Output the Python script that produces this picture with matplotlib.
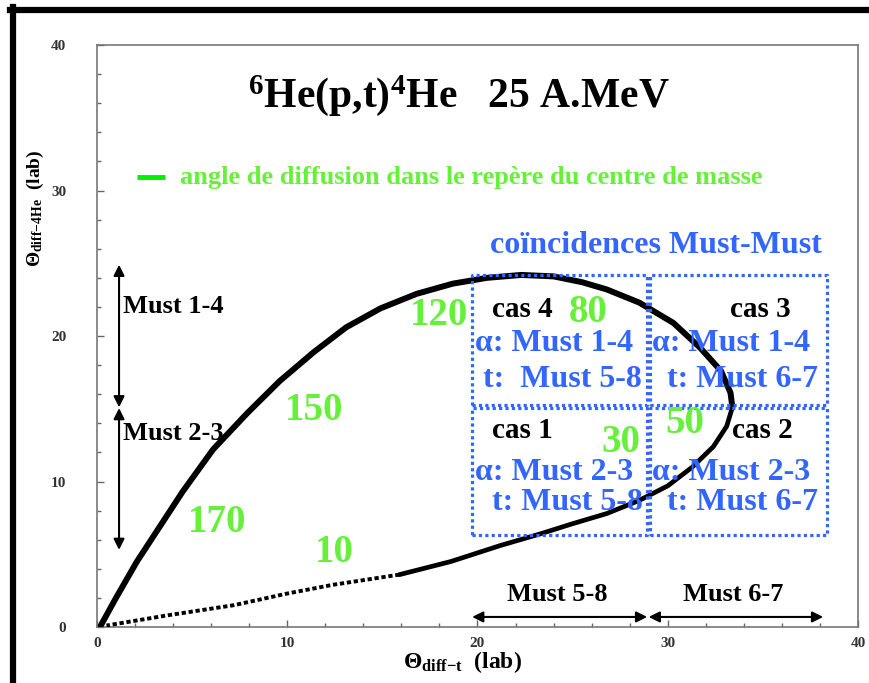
import numpy as np
import matplotlib.pyplot as plt
from matplotlib.lines import Line2D
from matplotlib.ticker import MultipleLocator

plt.rcParams['font.family'] = ['Liberation Serif', 'DejaVu Serif']
plt.rcParams['font.weight'] = 'bold'
plt.rcParams['mathtext.fontset'] = 'custom'
plt.rcParams['mathtext.rm'] = 'Liberation Serif:bold'
plt.rcParams['mathtext.bf'] = 'Liberation Serif:bold'
plt.rcParams['mathtext.it'] = 'Liberation Serif:bold'

# Kinematic curve (theta_t, theta_4He) in lab, degrees
# forward branch, from origin to the turning point
fwd_t = [0.2, 1.0, 2.1, 3.3, 4.5, 6.1, 7.9, 9.6, 11.4, 13.1, 14.9, 16.8, 18.7, 20.5,
         22.3, 24.0, 25.5, 26.8, 28.5, 30.3, 31.7, 32.8, 33.3, 33.4]
fwd_a = [0.1, 2.0, 4.5, 6.9, 9.3, 12.2, 14.7, 16.9, 18.9, 20.6, 21.9, 22.9, 23.6, 24.0,
         24.2, 24.1, 23.7, 23.2, 22.3, 20.9, 19.2, 17.6, 16.1, 15.1]
# return branch, solid part
ret_t = [33.4, 33.1, 32.4, 31.3, 30.0, 28.5, 26.8, 25.0, 23.3, 21.2, 18.6, 15.9]
ret_a = [15.1, 13.8, 12.4, 11.0, 9.7, 8.7, 7.8, 7.1, 6.4, 5.6, 4.5, 3.6]
# return branch, dotted part near origin
dot_t = [15.9, 12.4, 10.0, 7.2, 3.7, 0.5]
dot_a = [3.6, 2.9, 2.3, 1.5, 0.8, 0.1]

# CM angles along the curve
cm_labels = ['170', '150', '120', '80', '50', '30', '10']
cm_x = [6.3, 11.4, 18.0, 25.8, 30.9, 27.55, 12.5]
cm_y = [7.2, 14.9, 21.4, 21.65, 14.0, 12.7, 5.1]

# detector coincidence zones
box_x0 = [19.72, 29.07, 19.72, 29.07]
box_x1 = [28.92, 38.38, 28.92, 38.38]
box_y0 = [6.32, 6.32, 15.26, 15.26]
box_y1 = [15.05, 15.05, 24.19, 24.19]
case_txt = ['cas 1', 'cas 2', 'cas 4', 'cas 3']
case_x = [20.77, 33.39, 20.77, 33.28]
case_y = [13.54, 13.54, 21.8, 21.8]
alpha_txt = ['α: Must 2-3', 'α: Must 2-3', 'α: Must 1-4', 'α: Must 1-4']
alpha_x = [19.87, 29.18, 19.87, 29.18]
alpha_y = [10.65, 10.65, 19.52, 19.52]
t_txt = ['t: Must 5-8', 't: Must 6-7', 't:  Must 5-8', 't: Must 6-7']
t_x = [20.77, 29.97, 20.3, 29.97]
t_y = [8.59, 8.59, 16.98, 16.98]

green = '#66f03a'
blue = '#3366ff'

fig = plt.figure(figsize=(8.69, 6.83), dpi=100)
ax = fig.add_axes([0.1116, 0.082, 0.8757, 0.852])

ax.plot(fwd_t, fwd_a, color='black', lw=4.3, solid_capstyle='round', solid_joinstyle='round', zorder=3)
ax.plot(ret_t, ret_a, color='black', lw=3.4, solid_capstyle='round', solid_joinstyle='round', zorder=3)
ax.plot(dot_t, dot_a, color='black', lw=2.8, linestyle=(0, (1.1, 0.7)), dash_capstyle='butt', zorder=3)

ax.set_xlim(0, 40)
ax.set_ylim(0, 40)
ax.xaxis.set_major_locator(MultipleLocator(10))
ax.yaxis.set_major_locator(MultipleLocator(10))
ax.xaxis.set_minor_locator(MultipleLocator(2))
ax.yaxis.set_minor_locator(MultipleLocator(2))
ax.tick_params(which='both', direction='in', color='#666666', width=1)
ax.tick_params(which='major', length=5)
ax.tick_params(which='minor', length=3)
ax.tick_params(axis='y', pad=22, labelsize=11, labelcolor='#333333')
ax.tick_params(axis='x', pad=7, labelsize=11, labelcolor='#333333')
for s in ax.spines.values():
    s.set_color('#777777')
    s.set_linewidth(1.2)

# title and legend
ax.text(19.0, 36.5, r'$^{6}$He(p,t)$^{4}$He   25 A.MeV', fontsize=30, ha='center', va='center')
ax.plot([2.1, 3.6], [30.9, 30.9], color='#00ee00', lw=3.5, solid_capstyle='butt')
ax.text(4.36, 30.9, 'angle de diffusion dans le repère du centre de masse', color=green,
        fontsize=19, va='center', ha='left')
ax.text(20.66, 26.25, 'coïncidences Must-Must', color=blue, fontsize=23, va='center', ha='left')

# boxes and their texts
for k in range(4):
    x0, x1, y0, y1 = box_x0[k], box_x1[k], box_y0[k], box_y1[k]
    ax.plot([x0, x1, x1, x0, x0], [y0, y0, y1, y1, y0], color=blue, lw=2.3,
            linestyle=(0, (1, 1)), zorder=4)
    ax.text(case_x[k], case_y[k], case_txt[k], fontsize=21, va='center', ha='left', zorder=5)
    ax.text(alpha_x[k], alpha_y[k], alpha_txt[k], color=blue, fontsize=23, va='center', ha='left', zorder=5)
    ax.text(t_x[k], t_y[k], t_txt[k], color=blue, fontsize=23, va='center', ha='left', zorder=5)

for lab, x, y in zip(cm_labels, cm_x, cm_y):
    ax.text(x, y, lab, color=green, fontsize=28, ha='center', va='center', zorder=6)

# detector arrows
arw = dict(arrowstyle='<|-|>', color='black', lw=1.5, mutation_scale=16, shrinkA=0, shrinkB=0)
ax.annotate('', xy=(1.16, 24.9), xytext=(1.16, 15.1), arrowprops=arw)
ax.annotate('', xy=(1.16, 15.05), xytext=(1.16, 5.3), arrowprops=arw)
ax.annotate('', xy=(19.72, 0.69), xytext=(28.92, 0.69), arrowprops=arw)
ax.annotate('', xy=(29.0, 0.69), xytext=(38.17, 0.69), arrowprops=arw)
ax.text(1.37, 22.0, 'Must 1-4', fontsize=19, va='center', ha='left')
ax.text(1.37, 13.33, 'Must 2-3', fontsize=19, va='center', ha='left')
ax.text(24.19, 2.2, 'Must 5-8', fontsize=19, va='center', ha='center')
ax.text(33.44, 2.2, 'Must 6-7', fontsize=19, va='center', ha='center')

# axis labels
fig.text(35 / 869, 1 - 208 / 683, r'$\Theta_{diff{-}4He}$  (lab)', rotation=90, fontsize=14,
         ha='center', va='center')
fig.text(462 / 869, 1 - 662 / 683, r'$\Theta_{diff{-}t}$  (lab)', fontsize=17, ha='center', va='center')

# black frame top and left
fig.add_artist(Line2D([10 / 869, 1], [1 - 10 / 683, 1 - 10 / 683], color='black', lw=4.5,
                      transform=fig.transFigure))
fig.add_artist(Line2D([13 / 869, 13 / 869], [0, 1 - 7 / 683], color='black', lw=4.5,
                      transform=fig.transFigure))

fig.savefig('out.png', dpi=100)
